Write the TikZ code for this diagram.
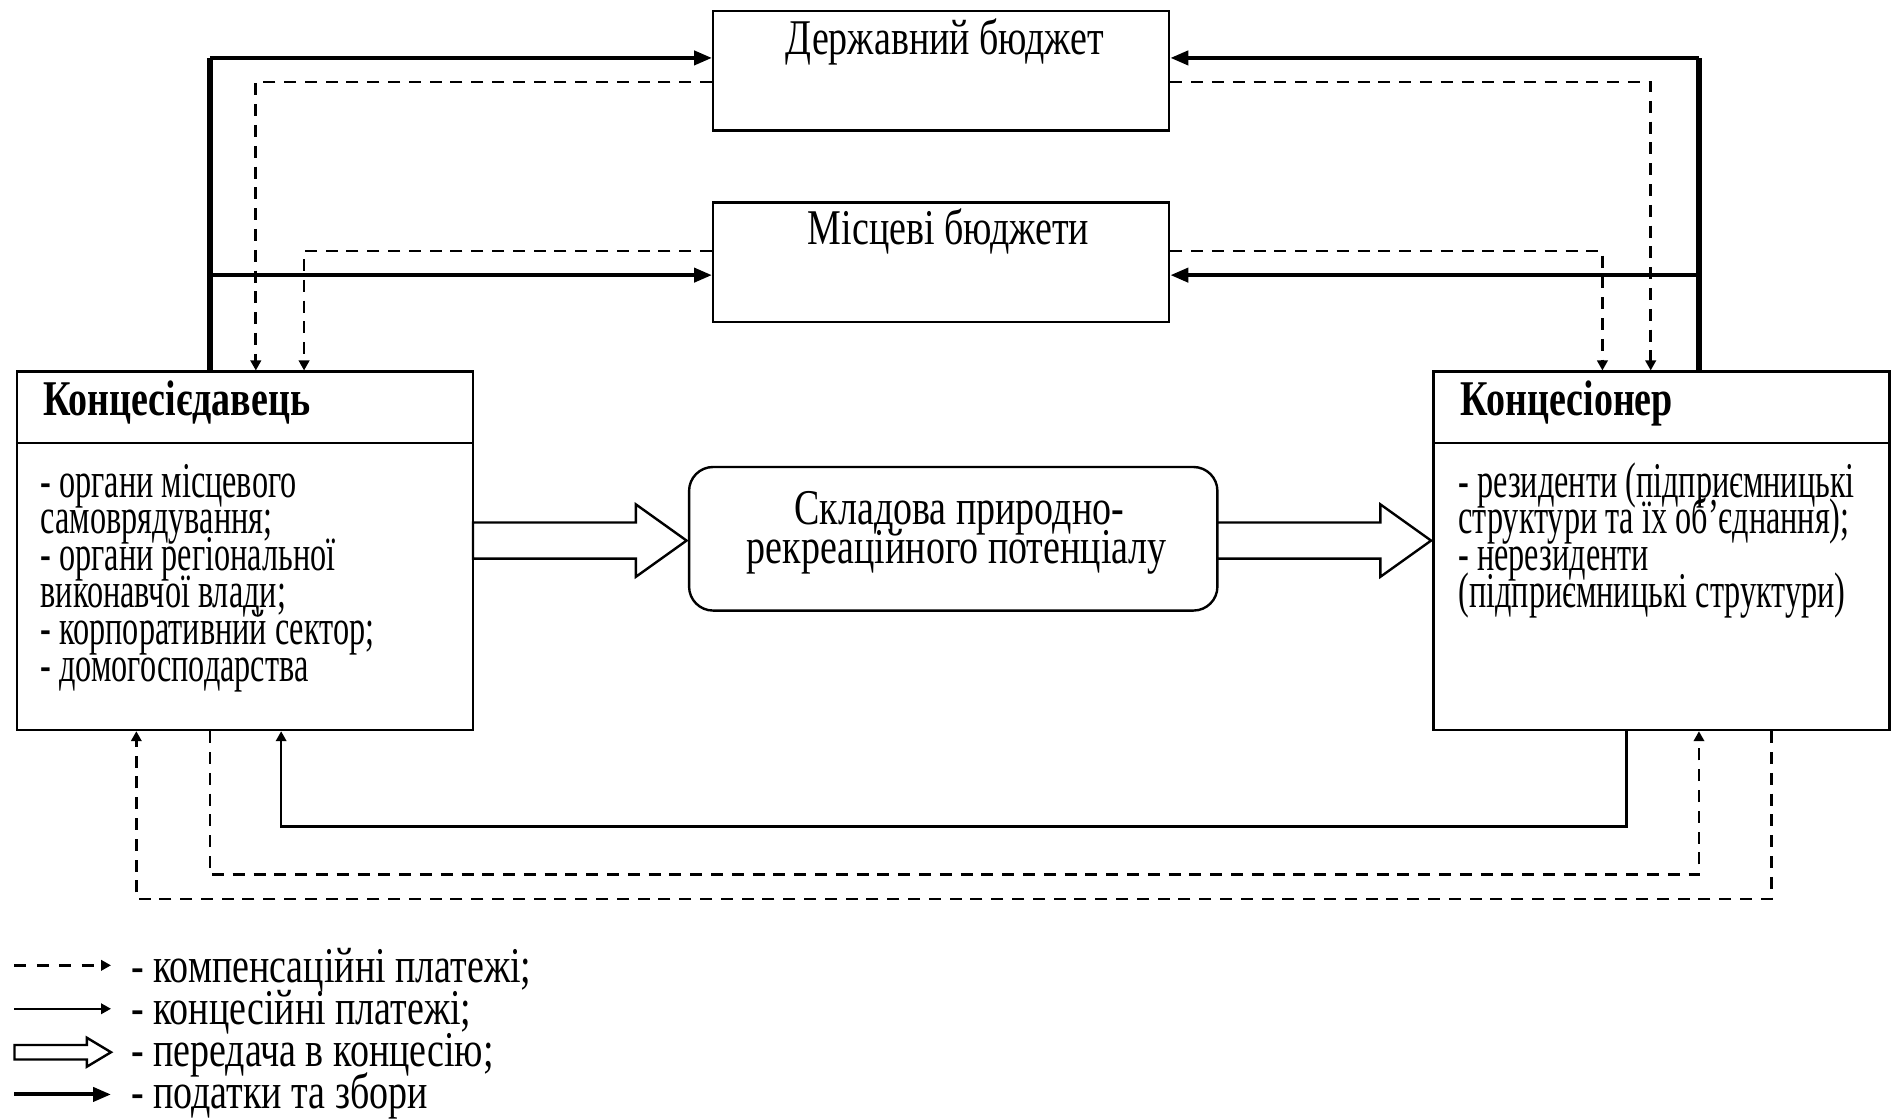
\documentclass[tikz,border=0pt]{standalone}
\usepackage{fontspec}
\setmainfont{Liberation Serif}[FakeStretch=0.76]
\newfontfamily\narrowfont{Liberation Serif}[FakeStretch=0.645]
\usetikzlibrary{arrows.meta}

\begin{document}
\begin{tikzpicture}[x=0.3017pt,y=-0.3017pt,
	box/.style={draw,line width=0.6pt,minimum width=114pt,inner sep=0pt},
	txt/.style={font=\fontsize{12.5pt}{9.3pt}\selectfont,inner sep=0pt},
	listtxt/.style={font=\fontsize{12.5pt}{9.3pt}\narrowfont,inner sep=0pt},
	title/.style={font=\fontsize{12.5pt}{9.3pt}\selectfont\bfseries,inner sep=0pt},
	tax/.style={line width=1pt,-{Triangle[length=4.5pt,width=3.5pt]}},
	taxbar/.style={line width=1.4pt},
	comp/.style={line width=0.7pt,dash pattern=on 3pt off 2.2pt,-{Triangle[length=2.5pt,width=2.6pt]}},
	conc/.style={line width=0.6pt,-{Triangle[length=2.5pt,width=2.6pt]}},
	hollow/.style={draw,line width=0.6pt,fill=white}]
	\useasboundingbox (0,0) rectangle (1568,927);
	
	\node[box,minimum height=29.9pt] (derzh) at (780,58.5) {};
	\node[box,minimum height=29.9pt] (misc) at (780,217.5) {};
	\node[box,minimum height=89.6pt] (kd) at (203,456.5) {};
	\node[box,minimum height=89.6pt] (kn) at (1377,456.5) {};
	\node[draw,line width=0.6pt,rounded corners=6pt,minimum width=132.1pt,minimum height=35.9pt] (skl) at (790,446.5) {};
	
	\coordinate (hline) at (0,367);
	\draw[line width=0.6pt] (kd.west |- hline) -- (kd.east |- hline);
	\draw[line width=0.6pt] (kn.west |- hline) -- (kn.east |- hline);
	
	\node[txt,anchor=base] (derzhtxt) at (783,45) {Державний бюджет};
	\node[txt,anchor=base] (misctxt) at (786,203) {Місцеві бюджети};
	\node[title,anchor=base west] (kdtitle) at (35,344) {Концесієдавець};
	\node[title,anchor=base west] (kntitle) at (1210,344) {Концесіонер};
	\node[txt,anchor=base] (skl1) at (795,435) {Складова природно-};
	\node[txt,anchor=base] (skl2) at (793,467) {рекреаційного потенціалу};
	
	\foreach \t [count=\i] in {- органи місцевого, самоврядування;, - органи регіональної, виконавчої влади;, - корпоративний сектор;, - домогосподарства}
		\node[listtxt,anchor=base west] (kdl\i) at (33,{412+30.5*(\i-1)}) {\t};
	\foreach \t [count=\i] in {- резиденти (підприємницькі, структури та їх об’єднання);, - нерезиденти, (підприємницькі структури)}
		\node[listtxt,anchor=base west] (knl\i) at (1208,{412+30.5*(\i-1)}) {\t};
	
	\foreach \s/\e in {392/569, 1009/1186}
		\draw[hollow] (\s,433) -- (\e-42,433) -- (\e-42,418) -- (\e,448) -- (\e-42,478) -- (\e-42,463) -- (\s,463) -- cycle;
	
	\coordinate (ytax1) at (0,48);
	\coordinate (ycomp1) at (0,68);
	\coordinate (ycomp2) at (0,208);
	\coordinate (ytax2) at (0,228);
	\coordinate (xtaxL) at (174,0);
	\coordinate (xcL1) at (212,0);
	\coordinate (xcL2) at (252,0);
	\coordinate (xcR2) at (1328,0);
	\coordinate (xcR1) at (1368,0);
	\coordinate (xtaxR) at (1408,0);
	
	\draw[taxbar] (kd.north -| xtaxL) -- (xtaxL |- ytax1);
	\draw[taxbar] (kn.north -| xtaxR) -- (xtaxR |- ytax1);
	\draw[tax] (xtaxL |- ytax1) -- (derzh.west |- ytax1);
	\draw[tax] (xtaxL |- ytax2) -- (misc.west |- ytax2);
	\draw[tax] (xtaxR |- ytax1) -- (derzh.east |- ytax1);
	\draw[tax] (xtaxR |- ytax2) -- (misc.east |- ytax2);
	
	\draw[comp] (derzh.west |- ycomp1) -| (kd.north -| xcL1);
	\draw[comp] (misc.west |- ycomp2) -| (kd.north -| xcL2);
	\draw[comp] (derzh.east |- ycomp1) -| (kn.north -| xcR1);
	\draw[comp] (misc.east |- ycomp2) -| (kn.north -| xcR2);
	
	\coordinate (xb1) at (113,0);
	\coordinate (xb3) at (233,0);
	\coordinate (xb4) at (1348,0);
	\coordinate (xb6) at (1468,0);
	\coordinate (yb1) at (0,685);
	\coordinate (yb2) at (0,725);
	\coordinate (yb3) at (0,745);
	
	\draw[conc] (kn.south -| xb4) |- (xb3 |- yb1) -- (kd.south -| xb3);
	\draw[comp] (kd.south -| xtaxL) |- (xtaxR |- yb2) -- (kn.south -| xtaxR);
	\draw[comp] (kn.south -| xb6) |- (xb1 |- yb3) -- (kd.south -| xb1);
	
	\coordinate (lg1) at (12,800);
	\coordinate (lg2) at (12,836);
	\coordinate (lg4) at (12,907);
	\draw[comp,dash pattern=on 3pt off 2.6pt] (lg1) -- ++(80,0);
	\draw[conc] (lg2) -- ++(80,0);
	\draw[hollow] (12,866) -- (72,866) -- (72,860) -- (92,872) -- (72,884) -- (72,878) -- (12,878) -- cycle;
	\draw[tax] (lg4) -- ++(80,0);
	\foreach \t [count=\i] in {- компенсаційні платежі;, - концесійні платежі;, - передача в концесію;, - податки та збори}
		\node[txt,anchor=base west] (lgt\i) at (108,{814+35*(\i-1)}) {\t};
\end{tikzpicture}
\end{document}
